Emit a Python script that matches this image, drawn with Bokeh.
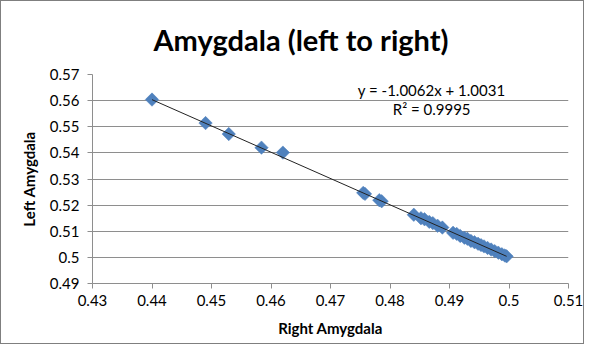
import numpy as np
from bokeh.plotting import figure
from bokeh.models import Label, Range1d, FixedTicker
from bokeh.embed import file_html
from bokeh.resources import INLINE

# Data
right_amygdala = [0.4400, 0.4490, 0.4529, 0.4584, 0.4620, 0.4755, 0.4758, 0.4782, 0.4786,
                  0.4840, 0.4852, 0.4858, 0.4866, 0.4872, 0.4880, 0.4888,
                  0.4906, 0.4912, 0.4918, 0.4925, 0.4930, 0.4936, 0.4942, 0.4948,
                  0.4953, 0.4958, 0.4964, 0.4970, 0.4976, 0.4982, 0.4988, 0.4993, 0.4996]
left_amygdala = [0.5604, 0.5514, 0.5472, 0.5420, 0.5401, 0.5247, 0.5243, 0.5219, 0.5215,
                 0.5163, 0.5150, 0.5146, 0.5136, 0.5131, 0.5121, 0.5114,
                 0.5094, 0.5090, 0.5082, 0.5075, 0.5071, 0.5063, 0.5058, 0.5052,
                 0.5047, 0.5042, 0.5036, 0.5030, 0.5024, 0.5018, 0.5012, 0.5007, 0.5004]
slope = -1.0062
intercept = 1.0031
r_squared = 0.9995
x_ticks = [0.43, 0.44, 0.45, 0.46, 0.47, 0.48, 0.49, 0.50, 0.51]
y_ticks = [0.49, 0.50, 0.51, 0.52, 0.53, 0.54, 0.55, 0.56, 0.57]

FONT = "Lato"
GRID = "#8e8e8e"

p = figure(width=584, height=344, output_backend="svg", toolbar_location=None,
           title="Amygdala (left to right)",
           x_range=Range1d(0.43, 0.51), y_range=Range1d(0.49, 0.57),
           min_border_left=91, min_border_right=17, min_border_top=71, min_border_bottom=62,
           styles={"border": "1px solid #7f7f7f"})

p.title.text_font = FONT
p.title.text_font_size = "29px"
p.title.text_font_style = "bold"
p.title.align = "left"
p.title.text_color = "#000000"
p.title.standoff = 36
p.title.offset = 61

p.outline_line_color = None
p.background_fill_color = "white"
p.border_fill_color = "white"

p.xgrid.grid_line_color = None
p.ygrid.grid_line_color = GRID
p.ygrid.grid_line_width = 1

for ax in (p.xaxis[0], p.yaxis[0]):
    ax.axis_line_color = GRID
    ax.major_tick_line_color = GRID
    ax.minor_tick_line_color = None
    ax.major_tick_out = 5
    ax.major_tick_in = 0
    ax.major_label_text_font = FONT
    ax.major_label_text_font_size = "15px"
    ax.major_label_text_color = "#000000"
    ax.axis_label_text_font = FONT
    ax.axis_label_text_font_size = "15px"
    ax.axis_label_text_font_style = "bold"
    ax.axis_label_text_color = "#000000"

p.xaxis.ticker = FixedTicker(ticks=x_ticks)
p.yaxis.ticker = FixedTicker(ticks=y_ticks)
p.xaxis.major_label_overrides = {t: f"{t:g}" for t in x_ticks}
p.yaxis.major_label_overrides = {t: f"{t:g}" for t in y_ticks}
p.xaxis.axis_label = "Right Amygdala"
p.yaxis.axis_label = "Left Amygdala"
p.xaxis.major_label_standoff = 6
p.yaxis.major_label_standoff = 8
p.xaxis.axis_label_standoff = 10
p.yaxis.axis_label_standoff = 9

p.scatter(right_amygdala, left_amygdala, marker="square", angle=np.pi / 4, size=9.5,
          fill_color="#4F81BD", line_color="#4F81BD", line_width=0.5)

x0, x1 = min(right_amygdala), max(right_amygdala)
p.line([x0, x1], [slope * x0 + intercept, slope * x1 + intercept],
       line_color="#222222", line_width=1)

eq = f"y = {slope:.4f}x + {intercept:.4f}"
p.add_layout(Label(x=0.4870, y=0.5640, text=eq, text_align="center", text_baseline="middle",
                   text_font=FONT, text_font_size="15px", text_color="#000000"))
p.add_layout(Label(x=0.4870, y=0.5569, text=f"R² = {r_squared}", text_align="center",
                   text_baseline="middle", text_font=FONT, text_font_size="15px",
                   text_color="#000000"))

open("out.html", "w").write(file_html(p, INLINE))
